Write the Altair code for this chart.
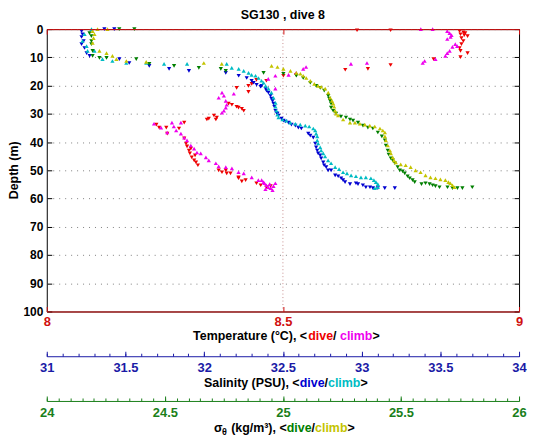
import numpy as np
import pandas as pd
import altair as alt

# ---------------- data ----------------
# Temperature (deg C) vs depth (m)
T_dive = [8.657, 8.728, 8.874, 8.882, 8.886, 8.876, 8.884, 8.891, 8.878, 8.882, 8.878, 8.874,
          8.876, 8.891, 8.876, 8.819, 8.728, 8.680, 8.632, 8.528, 8.501, 8.465, 8.444, 8.434,
          8.427, 8.427, 8.402, 8.385, 8.392, 8.402, 8.406, 8.413, 8.417, 8.360, 8.354, 8.343,
          8.358, 8.339, 8.232, 8.238, 8.253, 8.255, 8.280, 8.291, 8.291, 8.295, 8.297, 8.301,
          8.303, 8.307, 8.312, 8.316, 8.320, 8.305, 8.314, 8.364, 8.371, 8.379, 8.381, 8.389,
          8.406, 8.406, 8.413, 8.421, 8.444, 8.453, 8.465, 8.474]
T_dive_depth = [0.4, 0.4, 0.7, 1.1, 1.4, 1.8, 2.1, 2.5, 3.2, 4.2, 5.3, 6.7,
                7.7, 8.5, 9.9, 10.6, 12.7, 14.1, 14.4, 16.2, 16.5, 18.3, 18.0, 19.4,
                20.1, 22.2, 20.8, 26.4, 26.8, 27.5, 27.8, 28.2, 28.9, 31.3, 30.6, 31.7,
                32.0, 32.0, 33.8, 34.9, 34.9, 37.0, 35.2, 33.1, 38.7, 40.5, 41.5, 43.0,
                44.0, 45.4, 46.5, 47.2, 48.2, 42.3, 44.7, 50.0, 50.7, 50.0, 51.1, 51.1,
                52.5, 52.8, 53.9, 53.5, 54.6, 55.3, 56.0, 55.6]
T_climb = [8.792, 8.817, 8.848, 8.853, 8.857, 8.855, 8.848, 8.865, 8.869, 8.859, 8.853, 8.848,
           8.844, 8.823, 8.796, 8.800, 8.678, 8.644, 8.549, 8.543, 8.528, 8.512, 8.484, 8.469,
           8.484, 8.364, 8.371, 8.375, 8.379, 8.381, 8.379, 8.371, 8.375, 8.396, 8.227, 8.242,
           8.255, 8.265, 8.284, 8.269, 8.274, 8.284, 8.291, 8.297, 8.305, 8.312, 8.318, 8.326,
           8.337, 8.343, 8.358, 8.364, 8.379, 8.392, 8.406, 8.417, 8.434, 8.448, 8.459, 8.455,
           8.461, 8.465, 8.469, 8.474, 8.480, 8.484, 8.472, 8.463, 8.478]
T_climb_depth = [0.0, 0.0, 0.7, 1.4, 2.1, 2.8, 3.5, 5.3, 6.0, 6.3, 7.7, 8.5,
                 9.5, 10.6, 12.0, 11.3, 12.0, 12.3, 13.4, 14.1, 15.5, 16.2, 16.5, 17.6,
                 21.1, 24.3, 22.5, 23.6, 25.4, 26.8, 27.8, 29.6, 28.9, 22.9, 33.5, 34.9,
                 36.6, 33.1, 33.1, 34.5, 35.9, 37.0, 38.4, 39.4, 41.2, 42.3, 43.7, 44.0,
                 45.4, 46.5, 47.5, 48.6, 48.9, 49.3, 50.7, 51.1, 52.5, 53.5, 54.2, 53.5,
                 54.6, 55.3, 56.0, 56.3, 55.6, 54.6, 54.9, 56.7, 57.0]

# Salinity (PSU) vs depth (m)
S_dive = [31.221, 31.227, 31.221, 31.234, 31.221, 31.240, 31.253, 31.272, 31.366, 31.429,
          31.461, 31.524, 31.651, 31.777, 31.903, 32.137, 32.219, 32.270, 32.301, 32.333,
          32.364, 32.390, 32.408, 32.427, 32.440, 32.453, 32.459, 32.472, 32.491, 32.503,
          32.535, 32.579, 32.617, 32.661, 32.693, 32.705, 32.718, 32.737, 32.756, 32.775,
          32.806, 32.832, 32.870, 32.895, 32.964, 33.008, 33.053, 33.103, 33.147, 33.211,
          32.598, 32.674, 32.711, 32.724, 32.743, 32.762, 32.787, 32.851, 32.882, 32.926,
          32.977, 33.027, 33.072, 32.314, 32.358, 32.396, 32.421, 32.434, 32.446, 32.465,
          32.516, 32.554]
S_dive_depth = [0.7, 1.8, 2.8, 4.2, 5.3, 6.7, 8.5, 9.5, 0.0, 0.0,
                10.6, 12.0, 13.0, 14.1, 14.8, 15.5, 16.5, 17.3, 18.3, 19.7,
                20.1, 21.1, 22.5, 24.6, 26.4, 28.9, 29.6, 30.6, 31.7, 32.4,
                33.1, 34.2, 35.2, 37.0, 38.4, 40.5, 43.0, 44.7, 47.2, 48.9,
                50.0, 51.8, 52.8, 54.2, 54.6, 55.3, 56.0, 56.3, 56.3, 56.3,
                34.9, 37.7, 41.9, 44.0, 45.8, 48.2, 50.0, 52.1, 53.5, 54.9,
                54.9, 56.0, 56.3, 19.0, 20.4, 21.8, 23.6, 25.4, 27.5, 29.9,
                32.7, 33.8]
S_climb = [31.240, 31.227, 31.253, 31.259, 31.284, 31.303, 31.354, 31.417, 31.505, 31.632,
           31.745, 31.891, 32.143, 32.175, 32.219, 32.282, 32.326, 32.364, 32.390, 32.427,
           32.453, 32.459, 32.472, 32.522, 32.579, 32.642, 32.693, 32.711, 32.718, 32.737,
           32.756, 32.787, 32.832, 32.882, 32.933, 32.996, 33.059, 33.091, 33.103, 33.084,
           32.251, 32.301, 32.345, 32.377, 32.408, 32.440, 32.453, 32.465, 32.497, 32.547,
           32.610, 32.667, 32.705, 32.718, 32.724, 32.743, 32.768, 32.806, 32.857, 32.907,
           32.964, 33.027, 33.078, 33.103]
S_climb_depth = [1.8, 4.2, 6.0, 7.7, 0.0, 7.7, 10.6, 11.3, 12.0, 12.0,
                 12.3, 12.3, 12.3, 13.7, 14.1, 15.5, 16.5, 18.3, 20.1, 22.5,
                 26.1, 28.9, 31.3, 32.4, 33.5, 34.2, 35.2, 37.0, 39.4, 41.9,
                 44.0, 46.5, 48.9, 50.7, 51.8, 52.5, 52.8, 54.2, 56.0, 56.3,
                 14.8, 16.2, 17.3, 19.0, 21.1, 24.3, 27.5, 30.3, 32.0, 33.1,
                 33.8, 34.5, 35.9, 38.0, 40.5, 43.0, 45.1, 47.5, 49.6, 51.1,
                 52.1, 52.5, 53.5, 54.9]

# Potential density sigma-theta (kg/m^3) vs depth (m)
G_dive = [24.181, 24.189, 24.189, 24.189, 24.194, 24.194, 24.223, 24.253, 24.307, 24.371,
          24.379, 24.434, 24.539, 24.644, 24.737, 24.758, 24.918, 25.002, 25.057, 25.116,
          25.158, 25.192, 25.200, 25.204, 25.225, 25.267, 25.297, 25.339, 25.381, 25.402,
          25.432, 25.444, 25.457, 25.474, 25.495, 25.516, 25.537, 25.558, 25.604, 25.634,
          25.663, 25.697, 25.739, 25.760, 25.802,
          25.086, 25.141, 25.175, 25.196, 25.204, 25.213, 25.246, 25.284, 25.318, 25.360,
          25.419, 25.436, 25.448, 25.465, 25.486, 25.507, 25.528, 25.549, 25.587, 25.621,
          25.646, 25.718]
G_dive_depth = [1.4, 2.5, 4.2, 5.3, 7.7, 9.5, 10.2, 10.2, 0.0, 0.0,
                10.6, 12.3, 13.0, 13.7, 14.1, 14.8, 15.5, 15.8, 16.5, 19.0,
                20.8, 23.6, 25.4, 27.8, 29.9, 31.3, 32.4, 34.2, 35.2, 36.6,
                39.4, 43.0, 45.8, 47.5, 50.0, 51.1, 52.8, 54.2, 54.6, 55.3,
                56.0, 56.0, 56.3, 56.3, 56.0,
                17.3, 20.1, 21.8, 24.6, 26.4, 28.9, 31.0, 32.0, 33.1, 34.9,
                38.0, 41.2, 44.4, 46.5, 48.9, 50.4, 52.1, 53.5, 54.9, 54.9,
                55.6, 56.3]
G_climb = [24.194, 24.202, 24.198, 24.194, 24.215, 24.257, 24.223, 24.253, 24.278, 24.295,
           24.337, 24.421, 24.665, 24.741, 24.952, 25.002, 25.057, 25.086, 25.116, 25.149,
           25.179, 25.200, 25.213, 25.221, 25.234, 25.284, 25.326, 25.368, 25.411, 25.432,
           25.436, 25.453, 25.465, 25.478, 25.520, 25.562, 25.604, 25.646, 25.688, 25.709,
           25.726,
           24.977, 25.032, 25.074, 25.099, 25.133, 25.162, 25.192, 25.208, 25.217, 25.225,
           25.255, 25.305, 25.347, 25.389, 25.423, 25.432, 25.444, 25.457, 25.470, 25.499,
           25.541, 25.583, 25.625, 25.667, 25.701, 25.718]
G_climb_depth = [0.7, 1.8, 3.2, 4.9, 0.0, 0.0, 7.7, 8.5, 9.5, 10.6,
                 11.3, 11.6, 12.0, 12.3, 13.0, 14.1, 15.5, 16.5, 18.3, 20.1,
                 21.1, 24.3, 26.4, 28.9, 30.6, 33.1, 33.5, 34.2, 35.2, 36.6,
                 39.4, 43.0, 45.4, 47.2, 48.2, 50.0, 51.8, 52.8, 53.5, 54.6,
                 56.0,
                 13.4, 14.8, 15.8, 17.3, 19.4, 20.4, 22.5, 25.4, 27.5, 29.9,
                 32.0, 33.1, 33.8, 34.5, 35.9, 38.0, 41.2, 44.0, 46.5, 47.9,
                 48.9, 50.7, 52.5, 53.2, 54.2, 55.3]

depth_ticks = list(range(0, 101, 10))
temp_ticks = [8, 8.5, 9]
sal_ticks = [31, 31.5, 32, 32.5, 33, 33.5, 34]
sig_ticks = [24, 24.5, 25, 25.5, 26]
sal_minor = [round(v, 2) for v in np.arange(31, 34.001, 0.1)]
sig_minor = [round(v, 2) for v in np.arange(24, 26.001, 0.05)]

# ---------------- styling ----------------
FONT = "Liberation Sans"
W, H = 475, 284
RED, MAG = "#ee0000", "#ee00ee"
BLU, CYN = "#0000d0", "#00bcc4"
GRN, YEL = "#007f00", "#c4c400"
TAX, SAX, GAX = "#d01010", "#1a1aa6", "#1a7f1a"

series_keys = ["T dive", "T climb", "S dive", "S climb", "G dive", "G climb"]
series_cols = [RED, MAG, BLU, CYN, GRN, YEL]


def frame(vals, deps, key, phase):
    assert len(vals) == len(deps), key
    return pd.DataFrame({"v": vals, "depth": deps, "series": key, "phase": phase})


temp = pd.concat([frame(T_dive, T_dive_depth, "T dive", "dive"),
                  frame(T_climb, T_climb_depth, "T climb", "climb")])
sal = pd.concat([frame(S_dive, S_dive_depth, "S dive", "dive"),
                 frame(S_climb, S_climb_depth, "S climb", "climb")])
sig = pd.concat([frame(G_dive, G_dive_depth, "G dive", "dive"),
                 frame(G_climb, G_climb_depth, "G climb", "climb")])


def neg(n):
    return alt.ExprRef(expr=str(-n))


yscale = alt.Scale(domain=[0, 100], reverse=True, nice=False, zero=False)
tscale = alt.Scale(domain=[8, 9], nice=False, zero=False)
sscale = alt.Scale(domain=[31, 34], nice=False, zero=False)
gscale = alt.Scale(domain=[24, 26], nice=False, zero=False)
color = alt.Color("series:N", scale=alt.Scale(domain=series_keys, range=series_cols), legend=None)
shape = alt.Shape("phase:N", scale=alt.Scale(domain=["dive", "climb"],
                                             range=["triangle-down", "triangle-up"]), legend=None)
lab = dict(labelFont=FONT, labelFontWeight="bold", labelFlush=False, labelOverlap=False)

y_left = alt.Axis(orient="left", values=depth_ticks, grid=True, gridColor="#808080",
                  gridDash=[1, 5], gridWidth=1, domain=False, tickColor="black",
                  tickSize=neg(5), labelPadding=9, labelFontSize=12, labelColor="black",
                  title=None, **lab)


def points(df, xscale, xaxis, yaxis=None):
    return alt.Chart(df).mark_point(filled=True, size=18, opacity=1, strokeWidth=0).encode(
        x=alt.X("v:Q", scale=xscale, axis=xaxis),
        y=alt.Y("depth:Q", scale=yscale, axis=yaxis),
        color=color, shape=shape)


def ghost(df, xscale, xaxis):
    return alt.Chart(df).mark_point(opacity=0).encode(
        x=alt.X("v:Q", scale=xscale, axis=xaxis))


# temperature (main) axes
t_axis = alt.Axis(orient="bottom", values=temp_ticks, format="~g", grid=False,
                  domainColor=TAX, tickColor=TAX, tickSize=neg(5), labelColor=TAX,
                  labelFontSize=13, labelPadding=9, title=None, zindex=2, **lab)
rule85 = alt.Chart(pd.DataFrame({"t": [8.5]})).mark_rule(
    color="#c89090", strokeDash=[1, 2.5], strokeWidth=1).encode(
    x=alt.X("t:Q", scale=tscale, axis=None))
t_top = ghost(temp, tscale, alt.Axis(orient="top", values=temp_ticks, labels=False, grid=False,
                                     domainColor=TAX, tickColor=TAX, tickSize=neg(5),
                                     title=None, zindex=2))
y_right = alt.Chart(temp).mark_point(opacity=0).encode(
    y=alt.Y("depth:Q", scale=yscale,
            axis=alt.Axis(orient="right", values=depth_ticks, labels=False, grid=False,
                          domain=False, tickColor="black", tickSize=neg(5), title=None)))

# salinity axis
s_axis = alt.Axis(orient="bottom", offset=45, values=sal_ticks, format="~g", grid=False,
                  domainColor=SAX, tickColor=SAX, tickSize=neg(5), labelColor=SAX,
                  labelFontSize=13, labelPadding=10, title=None, **lab)
s_minor = ghost(sal, sscale, alt.Axis(orient="bottom", offset=45, values=sal_minor,
                                      labels=False, domain=False, grid=False, tickColor=SAX,
                                      tickSize=neg(3), title=None))
# sigma axis
g_axis = alt.Axis(orient="bottom", offset=90, values=sig_ticks, format="~g", grid=False,
                  domainColor=GAX, tickColor=GAX, tickSize=neg(5), labelColor=GAX,
                  labelFontSize=13, labelPadding=11, title=None, **lab)
g_minor = ghost(sig, gscale, alt.Axis(orient="bottom", offset=90, values=sig_minor,
                                      labels=False, domain=False, grid=False, tickColor=GAX,
                                      tickSize=neg(3), title=None))

# ---------------- multi-coloured titles (text pieces) ----------------
AW = {"T": 611, "e": 556, "m": 889, "p": 611, "r": 389, "a": 556, "t": 333, "u": 611,
      " ": 278, "(": 333, ")": 333, "°": 400, "C": 722, ",": 278, "<": 584, ">": 584,
      "d": 611, "i": 278, "v": 556, "/": 278, "c": 556, "l": 278, "b": 611, "S": 667,
      "n": 611, "y": 556, "P": 667, "U": 722, "k": 556, "g": 611, "³": 333, "σ": 640,
      "θ": 640}


def tw(s, fs):
    return sum(AW.get(c, 556) for c in s) * fs / 1000.0


def text_piece(s, x, y, fs, col, dy=0, align="left", angle=0):
    return alt.Chart(pd.DataFrame({"k": [0]})).mark_text(
        text=s, align=align, baseline="middle", font=FONT, fontSize=fs, angle=angle,
        fontWeight="bold", color=col, dy=dy).encode(x=alt.value(x), y=alt.value(y))


def title_pieces(pieces, cx, cy):
    total = sum(tw(s, fs) for s, _, fs, _ in pieces)
    x = cx - total / 2.0
    out = []
    for s, col, fs, dy in pieces:
        lead = len(s) - len(s.lstrip(" "))   # SVG drops leading blanks: skip them by hand
        x0 = x + tw(" " * lead, fs)
        core = s.strip(" ")
        if core:
            out.append(text_piece(core, x0, cy, fs, col, dy))
        x += tw(s, fs)
    return out


FS = 12.5
texts = []
texts += title_pieces([("Temperature (°C), <", "black", FS, 0), ("dive", RED, FS, 0),
                       ("/ ", "black", FS, 0), ("climb", MAG, FS, 0), (">", "black", FS, 0)],
                      241, 309)
texts += title_pieces([("Salinity (PSU), <", "black", FS, 0), ("dive", BLU, FS, 0),
                       ("/", "black", FS, 0), ("climb", CYN, FS, 0), (">", "black", FS, 0)],
                      240.5, 355.5)
texts += title_pieces([("σ", "black", FS, 0), ("θ", "black", 9, 4),
                       (" (kg/m³), <", "black", FS, 0), ("dive", GRN, FS, 0),
                       ("/", "black", FS, 0), ("climb", YEL, FS, 0), (">", "black", FS, 0)],
                      239, 401.5)
texts.append(text_piece("SG130 , dive 8", 237.5, -14, 12.5, "black", align="center"))
texts.append(text_piece("Depth (m)", -33, 142, 12.5, "black", align="center", angle=270))

chart = alt.layer(
    rule85, points(temp, tscale, t_axis, y_left), t_top, y_right,
    points(sal, sscale, s_axis), s_minor,
    points(sig, gscale, g_axis), g_minor,
    *texts
).resolve_scale(
    x="independent"
).resolve_axis(
    x="independent", y="independent"
).properties(
    width=W, height=H,
    padding={"left": 39, "top": 20, "right": 8, "bottom": 126},
    autosize=alt.AutoSizeParams(type="none"),
    background="white",
).configure_view(stroke="black", strokeWidth=1)

chart.save("out.html", embed_options={"renderer": "svg", "actions": False})
